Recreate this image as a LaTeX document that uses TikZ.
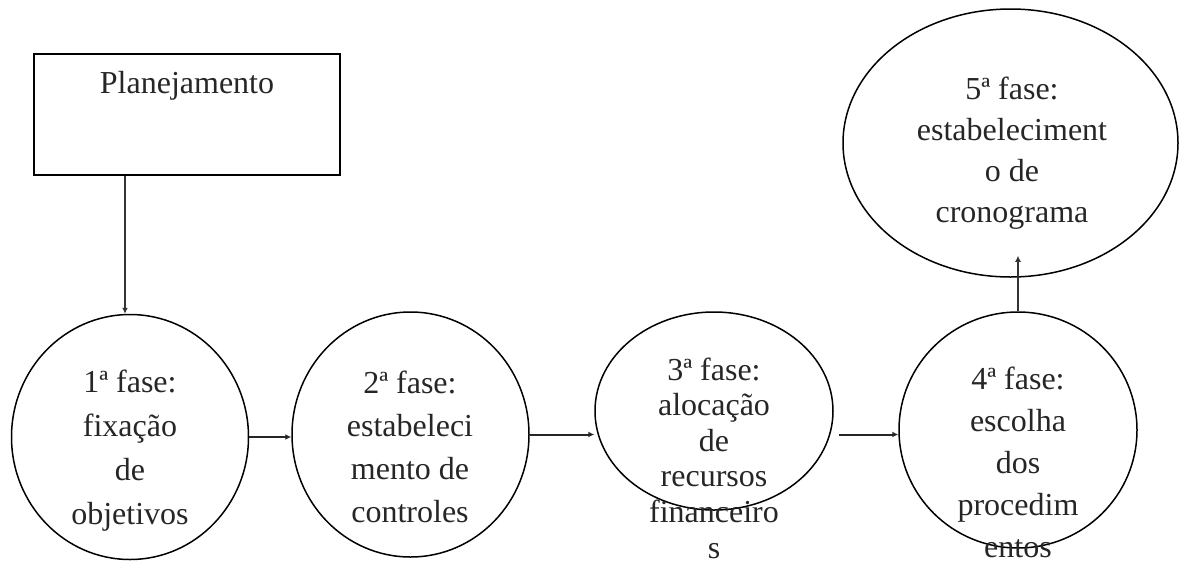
\documentclass[tikz,border=0pt]{standalone}
\usepackage{fontspec}
\setmainfont{Liberation Serif}
\usetikzlibrary{shapes.geometric,arrows.meta}
\tikzset{
  shapeline/.style={draw=black, line width=0.75pt},
  phase/.style={shapeline, ellipse, inner sep=0pt},
  lbl/.style={align=center, inner sep=0pt, text=black!85},
  harr/.style={draw=black!85, line width=1pt, -{Latex[length=3pt,width=3pt]}},
  varr/.style={draw=black!80, line width=0.7pt, -{Latex[length=3pt,width=3pt]}},
}
\begin{document}
\begin{tikzpicture}[x=0.5pt,y=-0.5pt]
\useasboundingbox (0,0) rectangle (1179,563);
% shapes
\node[shapeline, rectangle, minimum width=153pt, minimum height=60.5pt, inner sep=0pt] (plan) at (187,114.5) {};
\node[phase, minimum width=118.5pt, minimum height=122.5pt] (c1) at (130,437) {};
\node[phase, minimum width=118.5pt, minimum height=122.5pt] (c2) at (410.5,434.5) {};
\node[phase, minimum width=119pt, minimum height=99pt] (c3) at (714,411) {};
\node[phase, minimum width=119pt, minimum height=118pt] (c4) at (1018,430) {};
\node[phase, minimum width=167.5pt, minimum height=134pt] (c5) at (1010.5,143) {};
% labels
\node[lbl, font=\fontsize{16pt}{21.5pt}\selectfont] (tplan) at (187,86) {Planejamento};
\node[lbl, font=\fontsize{16pt}{22pt}\selectfont] (t1) at (130,450.5) {1ª fase:\\fixação\\de\\objetivos};
\node[lbl, font=\fontsize{16pt}{21.5pt}\selectfont] (t2) at (410,447) {2ª fase:\\estabeleci\\mento de\\controles};
\node[lbl, font=\fontsize{16pt}{17.8pt}\selectfont] (t3) at (714,458) {3ª fase:\\alocação\\de\\recursos\\financeiro\\s};
\node[lbl, font=\fontsize{16pt}{21pt}\selectfont] (t4) at (1018,462) {4ª fase:\\escolha\\dos\\procedim\\entos};
\node[lbl, font=\fontsize{16pt}{20.5pt}\selectfont] (t5) at (1012,153.5) {5ª fase:\\estabeleciment\\o de\\cronograma};
% connectors
\draw[varr] ([xshift=-2.5pt]c1.north |- plan.south) -- ([xshift=-2.5pt]c1.north);
\draw[harr] (c1.east) -- (c2.west |- c1.east);
\draw[harr] (c2.east) -- (c3.west |- c2.east);
\draw[harr] ([xshift=2.5pt]c3.east |- c2.east) -- (c4.west |- c2.east);
\draw[varr] (c4.north) -- ([yshift=11pt]c5.south -| c4.north);
\end{tikzpicture}
\end{document}
